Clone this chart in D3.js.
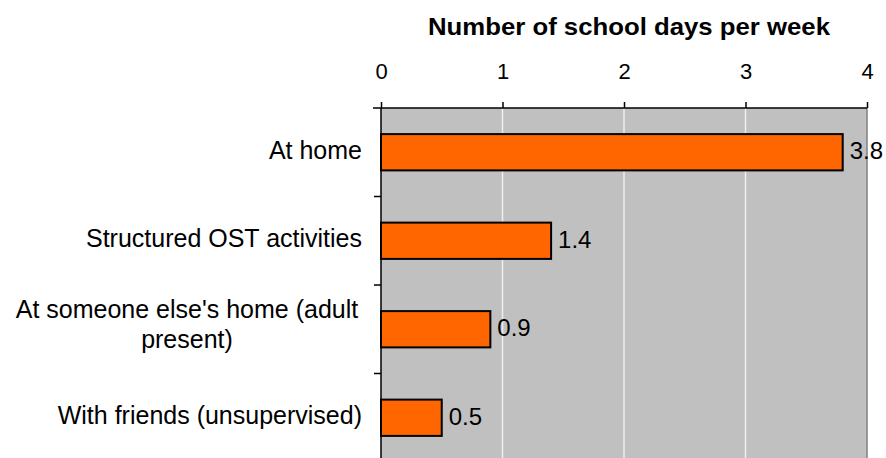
<!DOCTYPE html>
<html><head><meta charset="utf-8">
<script src="https://cdn.jsdelivr.net/npm/d3@7"></script>
<style>
html,body{margin:0;padding:0;background:#fff;}
text{font-family:"Liberation Sans",Arial,sans-serif;fill:#000;}
</style></head>
<body>
<svg id="chart" width="886" height="458"></svg>
<script>
const categories = [
  ["At home"],
  ["Structured OST activities"],
  ["At someone else's home (adult", "present)"],
  ["With friends (unsupervised)"]
];
const values = [3.8, 1.4, 0.9, 0.5];
const tickValues = [0, 1, 2, 3, 4];
const title = "Number of school days per week";

(function () {
const svg = d3.select("#chart");
const pLeft = 381, pRight = 867, pTop = 108, pBottom = 462;

const x = d3.scaleLinear().domain([0, 4]).range([pLeft, pRight]);
const y = d3.scaleBand().domain(d3.range(categories.length)).range([pTop, pBottom]).paddingInner(0.59).paddingOuter(0.295);

svg.append("rect").attr("x", pLeft).attr("y", pTop).attr("width", pRight - pLeft).attr("height", pBottom - pTop).attr("fill", "#C0C0C0");

svg.append("g").selectAll("line").data(tickValues.filter(d => d > 0 && d < 4)).join("line")
  .attr("x1", d => x(d)).attr("x2", d => x(d)).attr("y1", pTop).attr("y2", pBottom)
  .attr("stroke", "#EEEEEE").attr("stroke-width", 1.5);
svg.append("line").attr("x1", pRight).attr("x2", pRight).attr("y1", pTop).attr("y2", pBottom)
  .attr("stroke", "#808080").attr("stroke-width", 1.5);

svg.append("g").selectAll("rect").data(values).join("rect")
  .attr("x", x(0)).attr("y", (d, i) => y(i)).attr("width", d => x(d) - x(0)).attr("height", y.bandwidth())
  .attr("fill", "#FF6600").attr("stroke", "#000").attr("stroke-width", 2);

svg.append("g").selectAll("text").data(values).join("text")
  .attr("x", d => x(d) + 7).attr("y", (d, i) => y(i) + y.bandwidth() / 2 + 7)
  .attr("font-size", 24).text(d => d.toFixed(1));

const axTop = svg.append("g").attr("transform", `translate(0,${pTop})`)
  .call(d3.axisTop(x).tickValues(tickValues).tickFormat(d3.format("d")).tickSize(6).tickPadding(23));
axTop.select(".domain").attr("stroke", "#000").attr("stroke-width", 1.5).attr("d", `M${pLeft - 8},0H${pRight}`);
axTop.selectAll(".tick line").attr("stroke", "#000").attr("stroke-width", 1.5);
axTop.selectAll(".tick text").attr("font-size", 22).attr("font-family", "Liberation Sans, Arial, sans-serif").attr("fill", "#000");

svg.append("line").attr("x1", pLeft).attr("x2", pLeft).attr("y1", pTop).attr("y2", pBottom).attr("stroke", "#000").attr("stroke-width", 1.5);
const boundaries = d3.range(1, categories.length).map(i => y(i) - y.step() * y.paddingInner() / 2);
svg.append("g").selectAll("line").data(boundaries).join("line")
  .attr("x1", pLeft - 7).attr("x2", pLeft).attr("y1", d => d).attr("y2", d => d)
  .attr("stroke", "#000").attr("stroke-width", 1.5);

const lh = 30;
categories.forEach((lines, i) => {
  const cy = y(i) + y.bandwidth() / 2;
  const multi = lines.length > 1;
  const t = svg.append("text").attr("font-size", 25).attr("text-anchor", multi ? "middle" : "end");
  lines.forEach((ln, j) => {
    t.append("tspan").attr("x", multi ? 187 : 362)
      .attr("y", multi ? cy + (j - 0.5) * lh + 3.5 : cy + 6.5).text(ln);
  });
});

const tt = svg.append("text").attr("x", 629).attr("y", 35).attr("text-anchor", "middle")
  .attr("font-size", 24).attr("font-weight", "bold").text(title);
const w = tt.node().getComputedTextLength();
if (Math.abs(w - 402) > 4) tt.attr("textLength", 402).attr("lengthAdjust", "spacingAndGlyphs");
})();
</script>
</body></html>
